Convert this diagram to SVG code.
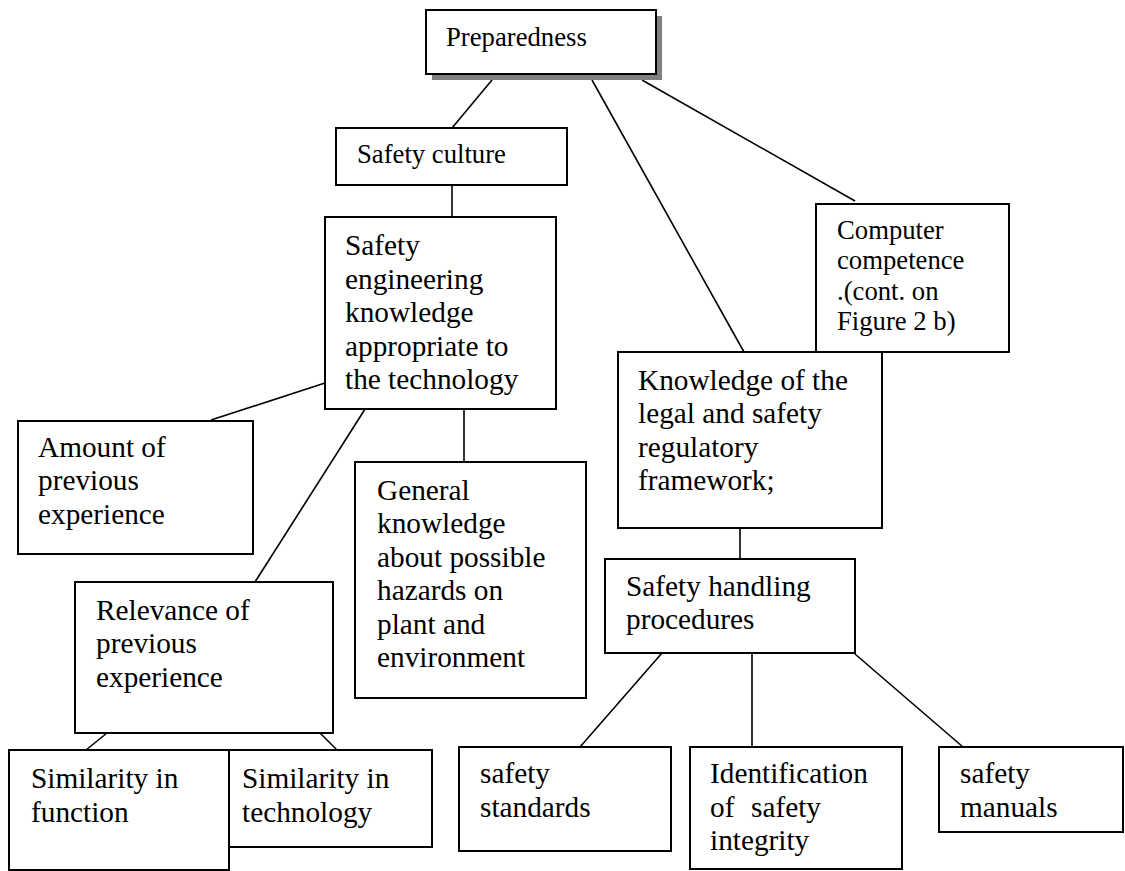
<svg xmlns="http://www.w3.org/2000/svg" width="1125" height="871" viewBox="0 0 1125 871">
  <style>
    .box { fill: #ffffff; stroke: #000000; stroke-width: 2; }
    .shadow { fill: #808080; stroke: none; }
    .link { stroke: #000000; stroke-width: 1.6; fill: none; }
    text { font-family: "Liberation Serif", "Times New Roman", serif; fill: #000000; }
    .lg { font-size: 29.3px; }
    .sm { font-size: 26.7px; }
  </style>

  <!-- connectors -->
  <g id="connectors">
    <line class="link" x1="492" y1="80" x2="452" y2="128"/>
    <line class="link" x1="592" y1="80" x2="744" y2="352"/>
    <line class="link" x1="642" y1="80" x2="855" y2="201"/>
    <line class="link" x1="452" y1="185" x2="452" y2="217"/>
    <line class="link" x1="325" y1="383" x2="211" y2="420"/>
    <line class="link" x1="388" y1="373" x2="255" y2="582"/>
    <line class="link" x1="464" y1="409" x2="464" y2="462"/>
    <line class="link" x1="107" y1="733" x2="86" y2="750"/>
    <line class="link" x1="320" y1="733" x2="337" y2="750"/>
    <line class="link" x1="740" y1="528" x2="740" y2="559"/>
    <line class="link" x1="662" y1="653" x2="580" y2="747"/>
    <line class="link" x1="752" y1="653" x2="752" y2="747"/>
    <line class="link" x1="855" y1="654" x2="963" y2="747"/>
  </g>

  <!-- root -->
  <g id="preparedness">
    <rect class="shadow" x="432" y="16" width="230" height="64"/>
    <rect class="box" x="426" y="10" width="230" height="64"/>
    <text class="sm" x="446" y="46">Preparedness</text>
  </g>

  <g id="safety-culture">
    <rect class="box" x="336" y="128" width="231" height="57"/>
    <text class="sm" x="357" y="163">Safety culture</text>
  </g>

  <g id="safety-engineering">
    <rect class="box" x="325" y="217" width="231" height="192"/>
    <text class="lg">
      <tspan x="345" y="255">Safety</tspan>
      <tspan x="345" y="288.5">engineering</tspan>
      <tspan x="345" y="322">knowledge</tspan>
      <tspan x="345" y="355.5">appropriate to</tspan>
      <tspan x="345" y="389">the technology</tspan>
    </text>
  </g>

  <g id="computer-competence">
    <rect class="box" x="816" y="204" width="193" height="148"/>
    <text class="sm">
      <tspan x="837" y="238.5">Computer</tspan>
      <tspan x="837" y="269">competence</tspan>
      <tspan x="837" y="299.5">.(cont. on</tspan>
      <tspan x="837" y="330">Figure 2 b)</tspan>
    </text>
  </g>

  <g id="legal-framework">
    <rect class="box" x="618" y="352" width="264" height="176"/>
    <text class="lg">
      <tspan x="638" y="389.5">Knowledge of the</tspan>
      <tspan x="638" y="423">legal and safety</tspan>
      <tspan x="638" y="456.5">regulatory</tspan>
      <tspan x="638" y="490">framework;</tspan>
    </text>
  </g>

  <g id="amount-experience">
    <rect class="box" x="18" y="421" width="235" height="133"/>
    <text class="lg">
      <tspan x="38" y="456.5">Amount of</tspan>
      <tspan x="38" y="490">previous</tspan>
      <tspan x="38" y="523.5">experience</tspan>
    </text>
  </g>

  <g id="general-knowledge">
    <rect class="box" x="355" y="462" width="231" height="236"/>
    <text class="lg">
      <tspan x="377" y="499.5">General</tspan>
      <tspan x="377" y="533">knowledge</tspan>
      <tspan x="377" y="566.5">about possible</tspan>
      <tspan x="377" y="600">hazards on</tspan>
      <tspan x="377" y="633.5">plant and</tspan>
      <tspan x="377" y="667">environment</tspan>
    </text>
  </g>

  <g id="safety-handling">
    <rect class="box" x="605" y="559" width="250" height="94"/>
    <text class="lg">
      <tspan x="626" y="595.5">Safety handling</tspan>
      <tspan x="626" y="629">procedures</tspan>
    </text>
  </g>

  <g id="relevance-experience">
    <rect class="box" x="75" y="582" width="258" height="151"/>
    <text class="lg">
      <tspan x="96" y="619.5">Relevance of</tspan>
      <tspan x="96" y="653">previous</tspan>
      <tspan x="96" y="686.5">experience</tspan>
    </text>
  </g>

  <g id="similarity-technology">
    <rect class="box" x="229" y="750" width="203" height="97"/>
    <text class="lg">
      <tspan x="242" y="788">Similarity in</tspan>
      <tspan x="242" y="821.5">technology</tspan>
    </text>
  </g>

  <g id="similarity-function">
    <rect class="box" x="9" y="750" width="220" height="120"/>
    <text class="lg">
      <tspan x="31" y="788">Similarity in</tspan>
      <tspan x="31" y="821.5">function</tspan>
    </text>
  </g>

  <g id="safety-standards">
    <rect class="box" x="459" y="747" width="212" height="104"/>
    <text class="lg">
      <tspan x="480" y="783">safety</tspan>
      <tspan x="480" y="816.5">standards</tspan>
    </text>
  </g>

  <g id="safety-integrity">
    <rect class="box" x="690" y="747" width="212" height="122"/>
    <text class="lg">
      <tspan x="710" y="783">Identification</tspan>
      <tspan x="710" y="816.5">of</tspan>
      <tspan x="751" y="816.5">safety</tspan>
      <tspan x="710" y="850">integrity</tspan>
    </text>
  </g>

  <g id="safety-manuals">
    <rect class="box" x="939" y="747" width="184" height="85"/>
    <text class="lg">
      <tspan x="960" y="783">safety</tspan>
      <tspan x="960" y="816.5">manuals</tspan>
    </text>
  </g>
</svg>
